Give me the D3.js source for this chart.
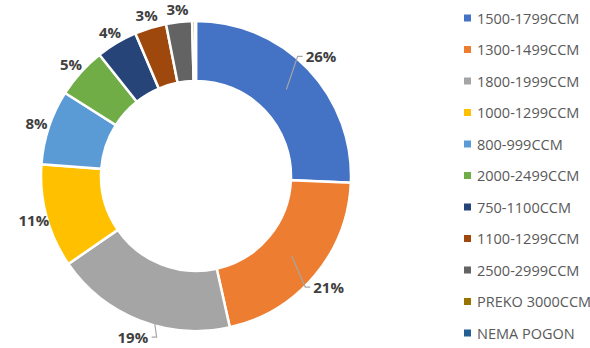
<!DOCTYPE html>
<html>
<head>
<meta charset="utf-8">
<script src="https://cdn.jsdelivr.net/npm/d3@7/dist/d3.min.js"></script>
<style>
  html, body { margin: 0; padding: 0; background: #fff; }
  svg { display: block; }
</style>
</head>
<body>
<svg id="chart" width="590" height="348"></svg>
<script>
const categories = ["1500-1799CCM","1300-1499CCM","1800-1999CCM","1000-1299CCM","800-999CCM","2000-2499CCM","750-1100CCM","1100-1299CCM","2500-2999CCM","PREKO 3000CCM","NEMA POGON"];
const values = [25.7, 20.8, 18.9, 10.8, 7.8, 5.3, 4.3, 3.3, 2.7, 0.3, 0.1];
const colors = ["#4472C4","#ED7D31","#A5A5A5","#FFC000","#5B9BD5","#70AD47","#264478","#9E480E","#636363","#997300","#255E91"];

const svg = d3.select("#chart");
const cx = 196, cy = 176, outerR = 155, innerR = 95;
const total = d3.sum(values);
const data = categories.map((c, i) => ({ name: c, value: values[i], color: colors[i] }));

const pie = d3.pie().value(d => d.value).sort(null);
const arcs = pie(data);
const arc = d3.arc().innerRadius(innerR).outerRadius(outerR);

const g = svg.append("g").attr("transform", `translate(${cx},${cy})`);

g.selectAll("path.slice").data(arcs).enter().append("path")
  .attr("class", "slice")
  .attr("d", arc)
  .attr("fill", d => d.data.color)
  .attr("stroke", "#fff")
  .attr("stroke-width", 2.5)
  .attr("stroke-linejoin", "miter");

const pct = d => Math.round(d.data.value / total * 100);
const labelFont = "'Open Sans', 'DejaVu Sans', sans-serif";

arcs.forEach(d => {
  const p = pct(d);
  if (p <= 0) return;
  const mid = (d.startAngle + d.endAngle) / 2;
  const big = p >= 15;
  const r = big ? 173 : 168;
  const lx = r * Math.sin(mid), ly = -r * Math.cos(mid);
  const t = g.append("text")
    .attr("x", lx).attr("y", ly)
    .attr("text-anchor", "middle")
    .attr("dominant-baseline", "central")
    .attr("font-family", labelFont)
    .attr("font-weight", "bold")
    .attr("font-size", 15)
    .attr("fill", "#404040")
    .text(p + "%");
  if (big) {
    const bb = t.node().getBBox();
    const right = lx > 0;
    const edge = right ? bb.x - 3 : bb.x + bb.width + 3;
    const elbow = right ? edge - 5 : edge + 5;
    const c = arc.centroid(d);
    g.insert("path", "text")
      .attr("d", `M${c[0]},${c[1]}L${elbow},${ly}L${edge},${ly}`)
      .attr("fill", "none")
      .attr("stroke", "#A6A6A6")
      .attr("stroke-width", 1.2);
  }
});

// Legend
const legend = svg.append("g");
const ly0 = 18, lstep = 31.5;
data.forEach((d, i) => {
  const y = ly0 + i * lstep;
  legend.append("rect")
    .attr("x", 464).attr("y", y - 3.5)
    .attr("width", 7).attr("height", 7)
    .attr("fill", d.color);
  legend.append("text")
    .attr("x", 477).attr("y", y)
    .attr("dominant-baseline", "central")
    .attr("font-family", labelFont)
    .attr("font-size", 14.5)
    .attr("fill", "#595959")
    .text(d.name);
});
</script>
</body>
</html>
